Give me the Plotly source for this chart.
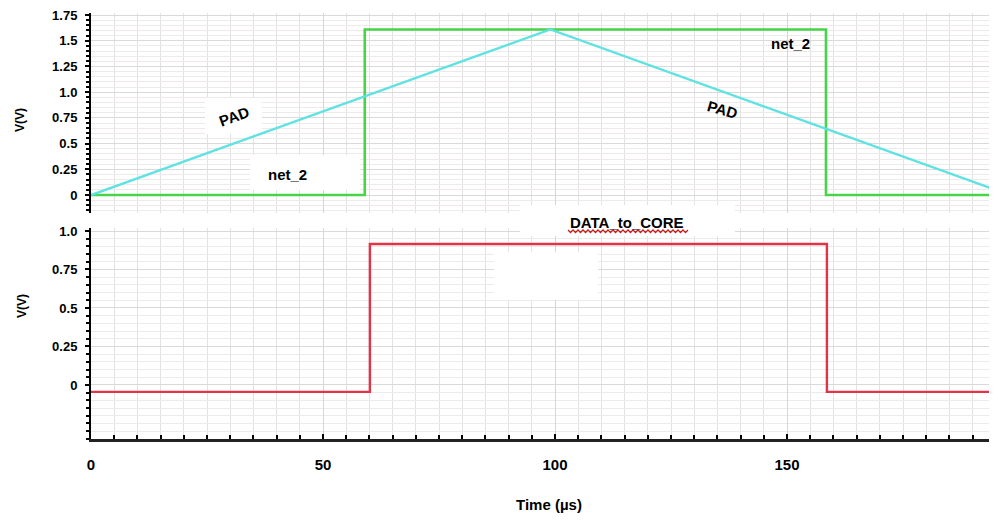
import plotly.graph_objects as go

# ---------------- data ----------------
t_net2 = [0, 59.0, 59.0, 158.4, 158.4, 200]
v_net2 = [0, 0, 1.61, 1.61, 0, 0]
t_pad = [0, 99, 198]
v_pad = [0, 1.61, 0]
t_data = [0, 60.1, 60.1, 158.6, 158.6, 200]
v_data = [-0.045, -0.045, 0.916, 0.916, -0.045, -0.045]

x_ticks = [0, 50, 100, 150]
top_ticks = [0, 0.25, 0.5, 0.75, 1.0, 1.25, 1.5, 1.75]
top_ticktext = ["0", "0.25", "0.5", "0.75", "1.0", "1.25", "1.5", "1.75"]
bot_ticks = [0, 0.25, 0.5, 0.75, 1.0]
bot_ticktext = ["0", "0.25", "0.5", "0.75", "1.0"]

# ---------------- geometry (window pixels; page body has an 8px margin) ----------------
OFF = 8
W, H = 997 - OFF, 520 - OFF
L_w, R_w, T_w, B_w = 91, 997, 13, 439
TOP_Y0, TOP_Y1 = 13, 213
BOT_Y0, BOT_Y1 = 228, 439
PX_PER_US = 4.64
TOP_RANGE = [-0.175, 1.77]
BOT_RANGE = [-0.351, 1.0195]

def px_to_t(px):
    return (px - L_w) / PX_PER_US

def py_to_top(py):
    return TOP_RANGE[0] + (TOP_Y1 - py) / (TOP_Y1 - TOP_Y0) * (TOP_RANGE[1] - TOP_RANGE[0])

def py_to_bot(py):
    return BOT_RANGE[0] + (BOT_Y1 - py) / (BOT_Y1 - BOT_Y0) * (BOT_RANGE[1] - BOT_RANGE[0])

def pxp(px):
    return (px - L_w) / (R_w - L_w)

def pyp(py):
    return (B_w - py) / (B_w - T_w)

GREEN = "rgb(72,212,72)"
CYAN = "rgb(95,226,226)"
RED = "rgb(226,52,72)"
FONT = "Liberation Sans, Arial, sans-serif"
NARROW = "Liberation Sans Narrow, Arial Narrow, Liberation Sans, Arial, sans-serif"

fig = go.Figure()
fig.add_trace(go.Scatter(x=t_net2, y=v_net2, mode="lines", line=dict(color=GREEN, width=2.6),
                         xaxis="x2", yaxis="y2", showlegend=False))
fig.add_trace(go.Scatter(x=t_pad, y=v_pad, mode="lines", line=dict(color=CYAN, width=2.4),
                         xaxis="x2", yaxis="y2", showlegend=False))
fig.add_trace(go.Scatter(x=t_data, y=v_data, mode="lines", line=dict(color=RED, width=2.4),
                         xaxis="x", yaxis="y", showlegend=False))

xr = [0, (R_w - L_w) / PX_PER_US]
top_dom = [(B_w - TOP_Y1) / (B_w - T_w), 1]
bot_dom = [0, (B_w - BOT_Y0) / (B_w - T_w)]

def yax(dom, rng, anchor, vals, text):
    return dict(domain=dom, range=rng, anchor=anchor, automargin=False,
                tickmode="array", tickvals=vals, ticktext=text,
                showgrid=True, gridcolor="#dadada",
                minor=dict(dtick=0.05, tick0=0, showgrid=True, gridcolor="#eeeaea",
                           ticks="outside", ticklen=3, tickcolor="black", tickwidth=1.5),
                ticks="outside", ticklen=4, tickcolor="black", tickwidth=1.5,
                showline=True, linecolor="black", linewidth=2,
                tickfont=dict(family=FONT, size=13, weight="bold"),
                ticklabelstandoff=5, ticklabeloverflow="allow",
                zeroline=False)

fig.update_layout(
    width=W, height=H,
    margin=dict(l=L_w - OFF, r=0, t=T_w - OFF, b=H - (B_w - OFF), autoexpand=False),
    paper_bgcolor="white", plot_bgcolor="white",
    font=dict(family=FONT, color="black"),
    xaxis=dict(domain=[0, 1], range=xr, anchor="y", automargin=False,
               tickmode="array", tickvals=x_ticks, ticktext=[str(v) for v in x_ticks],
               showgrid=True, gridcolor="#d6d6d6", gridwidth=1,
               minor=dict(dtick=5, tick0=0, showgrid=True, gridcolor="#e2e2e2",
                          ticks="inside", ticklen=4, tickcolor="black", tickwidth=2),
               ticks="inside", ticklen=5, tickcolor="black", tickwidth=2,
               showline=True, linecolor="#222222", linewidth=3,
               tickfont=dict(family=NARROW, size=15, weight="bold"),
               ticklabelstandoff=10, ticklabeloverflow="allow",
               zeroline=False),
    xaxis2=dict(domain=[0, 1], range=xr, anchor="y2", matches="x", automargin=False,
                showticklabels=False, ticks="",
                showgrid=True, gridcolor="#d6d6d6", gridwidth=1,
                tickmode="array", tickvals=x_ticks,
                minor=dict(dtick=5, tick0=0, showgrid=True, gridcolor="#e2e2e2"),
                showline=False, zeroline=False),
    yaxis=yax(bot_dom, BOT_RANGE, "x", bot_ticks, bot_ticktext),
    yaxis2=yax(top_dom, TOP_RANGE, "x2", top_ticks, top_ticktext),
)

# white patches between grid and traces (decoration)
def top_box(x0, y0, x1, y1):
    fig.add_shape(type="rect", xref="x2", yref="y2",
                  x0=px_to_t(x0), x1=px_to_t(x1), y0=py_to_top(y1), y1=py_to_top(y0),
                  fillcolor="white", line=dict(width=0), layer="between")

def bot_box(x0, y0, x1, y1):
    fig.add_shape(type="rect", xref="x", yref="y",
                  x0=px_to_t(x0), x1=px_to_t(x1), y0=py_to_bot(y1), y1=py_to_bot(y0),
                  fillcolor="white", line=dict(width=0), layer="between")

top_box(205, 98, 262, 134)
top_box(250, 155, 360, 190)
top_box(520, 205, 735, 213)
bot_box(520, 228, 735, 236)
bot_box(494, 252, 598, 300)

def ann(text, px, py, size=15, angle=0, family=FONT):
    fig.add_annotation(text=text, xref="paper", yref="paper",
                       x=pxp(px), y=pyp(py), xanchor="center", yanchor="middle",
                       showarrow=False, textangle=angle,
                       font=dict(family=family, size=size, color="black", weight="bold"))

ann("PAD", 234, 117, 15, -20)
ann("net_2", 287, 174, 15)
ann("PAD", 722, 110, 15, 16)
ann("net_2", 790, 43, 15)
ann("DATA_to_CORE", 627, 222, 15)
ann("V(V)", 20, 120, 12, -90)
ann("V(V)", 22, 306, 12, -90)
ann("Time (µs)", 549, 504, 15)

# red wavy underline
pts = []
x = 568
i = 0
while x <= 688:
    yy = 230 if i % 2 == 0 else 232.5
    pts.append((pxp(x), pyp(yy)))
    x += 2.5
    i += 1
path = "M " + " L ".join(f"{a:.5f},{b:.5f}" for a, b in pts)
fig.add_shape(type="path", path=path, xref="paper", yref="paper",
              line=dict(color="rgb(200,30,30)", width=1.3), layer="above")

fig.write_html("out.html")
